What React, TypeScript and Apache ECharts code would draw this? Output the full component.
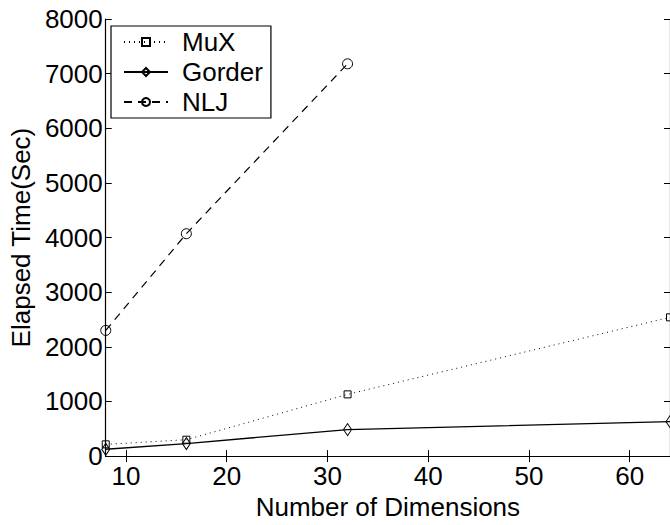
import React, { useEffect, useRef } from "react";
import * as echarts from "echarts";

const dims = [8, 16, 32, 64];
const muxValues = [215, 300, 1130, 2540];
const gorderValues = [125, 230, 485, 630];
const nljValues = [2300, 4070, 7180];
const xTicks = [10, 20, 30, 40, 50, 60];
const seriesNames = ["MuX", "Gorder", "NLJ"];

const FONT = "'Liberation Sans', Arial, Helvetica, sans-serif";

export default function App() {
  const ref = useRef<HTMLDivElement>(null);
  useEffect(() => {
    if (!ref.current) return;
    const chart = echarts.init(ref.current, undefined, { renderer: "svg" });
    const pair = (vals: number[]) => vals.map((v, i) => [dims[i], v]);
    const tickStyle = { lineStyle: { color: "#000", width: 1 } };
    chart.setOption({
      animation: false,
      backgroundColor: "#fff",
      textStyle: { fontFamily: FONT },
      grid: { left: 104, right: -3, top: 19, bottom: 58, containLabel: false },
      legend: {
        orient: "vertical",
        left: 111,
        top: 26,
        data: seriesNames,
        backgroundColor: "#fff",
        borderColor: "#000",
        borderWidth: 1.2,
        borderRadius: 0,
        padding: [1, 8, 1, 12],
        itemWidth: 44,
        itemHeight: 10,
        itemGap: 0,
        textStyle: { fontSize: 26, color: "#000", fontFamily: FONT, padding: [0, 0, 0, 9], lineHeight: 30 },
      },
      xAxis: [
        {
          type: "value",
          min: 8,
          max: 64,
          position: "bottom",
          name: "Number of Dimensions",
          nameLocation: "middle",
          nameGap: 34,
          nameTextStyle: { fontSize: 26, color: "#000", fontFamily: FONT },
          axisLine: { show: true, lineStyle: { color: "#000", width: 1.2 } },
          axisTick: { show: true, inside: true, length: 6, customValues: xTicks, ...tickStyle },
          axisLabel: { show: true, customValues: xTicks, fontSize: 26, color: "#000", margin: 7, fontFamily: FONT },
          splitLine: { show: false },
        },
        {
          type: "value",
          min: 8,
          max: 64,
          position: "top",
          axisLine: { show: true, lineStyle: { color: "#000", width: 1.2 } },
          axisTick: { show: true, inside: true, length: 6, customValues: xTicks, ...tickStyle },
          axisLabel: { show: false },
          splitLine: { show: false },
        },
      ],
      yAxis: [
        {
          type: "value",
          min: 0,
          max: 8000,
          interval: 1000,
          position: "left",
          name: "Elapsed Time(Sec)",
          nameLocation: "middle",
          nameGap: 68,
          nameTextStyle: { fontSize: 26, color: "#000", fontFamily: FONT },
          axisLine: { show: true, lineStyle: { color: "#000", width: 1.2 } },
          axisTick: { show: true, inside: true, length: 6, ...tickStyle },
          axisLabel: {
            show: true,
            fontSize: 26,
            color: "#000",
            margin: 3,
            fontFamily: FONT,
            formatter: (v: number) => String(v),
          },
          splitLine: { show: false },
        },
        {
          type: "value",
          min: 0,
          max: 8000,
          interval: 1000,
          position: "right",
          axisLine: { show: true, lineStyle: { color: "#000", width: 1.2 } },
          axisTick: { show: true, inside: true, length: 6, ...tickStyle },
          axisLabel: { show: false },
          splitLine: { show: false },
        },
      ],
      series: [
        {
          name: "MuX",
          type: "line",
          data: pair(muxValues),
          symbol: "rect",
          symbolSize: 7,
          lineStyle: { color: "#000", width: 1, type: [1, 4] },
          itemStyle: { color: "rgba(255,255,255,0)", borderColor: "#000", borderWidth: 1 },
          z: 3,
        },
        {
          name: "Gorder",
          type: "line",
          data: pair(gorderValues),
          symbol: "diamond",
          symbolSize: [8, 12],
          lineStyle: { color: "#000", width: 1.3, type: "solid" },
          itemStyle: { color: "rgba(255,255,255,0)", borderColor: "#000", borderWidth: 1 },
          z: 4,
        },
        {
          name: "NLJ",
          type: "line",
          data: pair(nljValues),
          symbol: "circle",
          symbolSize: 10,
          lineStyle: { color: "#000", width: 1.2, type: [8, 6] },
          itemStyle: { color: "rgba(255,255,255,0)", borderColor: "#000", borderWidth: 1 },
          z: 5,
        },
      ],
    });
    return () => chart.dispose();
  }, []);
  return (
    <div
      ref={ref}
      style={{ position: "fixed", left: 0, top: 0, width: 670, height: 525, background: "#fff" }}
    />
  );
}
